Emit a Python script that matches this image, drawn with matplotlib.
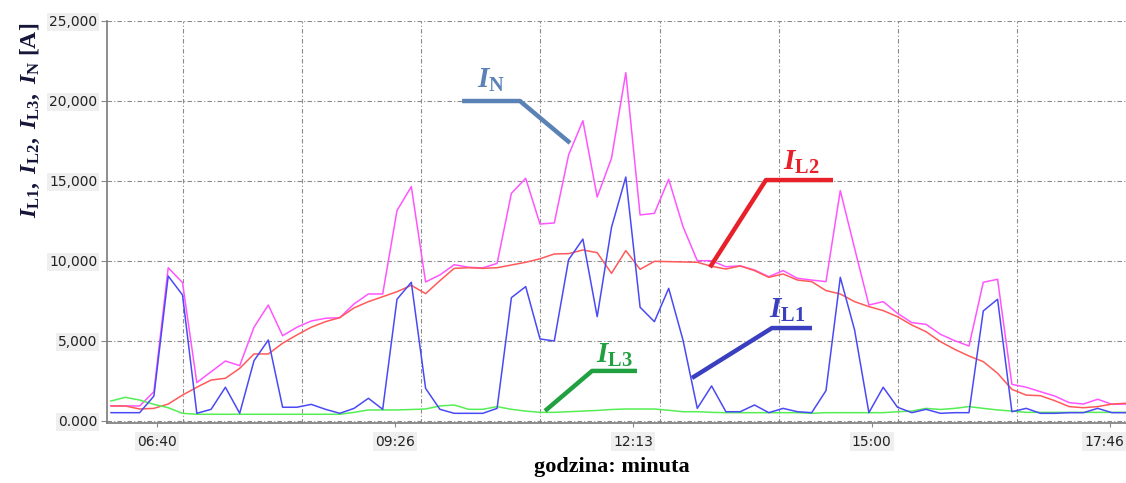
import numpy as np
import matplotlib

matplotlib.use('Agg')
import matplotlib.pyplot as plt
from matplotlib.transforms import ScaledTranslation

plt.rcParams['mathtext.fontset'] = 'custom'
plt.rcParams['mathtext.it'] = 'Liberation Serif:italic:bold'
plt.rcParams['mathtext.rm'] = 'Liberation Serif:bold'
plt.rcParams['mathtext.bf'] = 'Liberation Serif:bold'

# 10-minute samples starting at 06:08 (minutes after midnight)
t_start = 6 * 60 + 8
t_step = 10

i_l1 = [500, 500, 500, 1540, 9040, 7860, 460, 710, 2090, 460,
        3750, 5040, 840, 840, 1020, 710, 460, 770, 1400, 710,
        7590, 8650, 2020, 710, 460, 460, 460, 770, 7690, 8380,
        5110, 4980, 10060, 11350, 6500, 12080, 15230, 7090, 6190, 8270,
        5040, 770, 2170, 560, 560, 980, 500, 770, 560, 500,
        1880, 8960, 5670, 500, 2090, 840, 500, 710, 460, 500,
        500, 6860, 7590, 560, 770, 460, 460, 500, 500, 770,
        500, 500]

i_l2 = [920, 920, 730, 770, 1040, 1600, 2090, 2540, 2650, 3270,
        4170, 4170, 4840, 5360, 5840, 6190, 6440, 7050, 7440, 7750,
        8060, 8460, 7940, 8750, 9520, 9560, 9520, 9560, 9730, 9900,
        10120, 10420, 10440, 10670, 10500, 9210, 10630, 9460, 9960, 9940,
        9920, 9900, 9650, 9480, 9670, 9380, 8960, 9170, 8790, 8690,
        8130, 7920, 7440, 7130, 6880, 6500, 5980, 5560, 4940, 4460,
        4040, 3690, 2960, 1960, 1600, 1560, 1250, 880, 810, 880,
        1040, 1090]

i_l3 = [1230, 1460, 1290, 1020, 810, 460, 400, 400, 400, 400,
        400, 400, 400, 400, 400, 400, 400, 520, 670, 670,
        670, 700, 730, 920, 980, 710, 710, 880, 710, 600,
        520, 520, 560, 600, 640, 700, 730, 730, 730, 650,
        560, 560, 520, 500, 500, 500, 500, 500, 500, 460,
        500, 500, 500, 500, 500, 560, 600, 770, 700, 770,
        880, 770, 670, 600, 520, 520, 520, 520, 520, 520,
        520, 520]

i_n = [920, 920, 920, 1810, 9560, 8630, 2380, 3060, 3730, 3440,
       5840, 7230, 5310, 5840, 6230, 6400, 6440, 7300, 7920, 7920,
       13130, 14630, 8670, 9110, 9750, 9590, 9550, 9830, 14210, 15150,
       12290, 12360, 16610, 18750, 13980, 16400, 21750, 12860, 12960, 15090,
       12130, 10000, 10000, 9620, 9680, 9420, 9000, 9380, 8900, 8790,
       8690, 14380, 10770, 7230, 7440, 6710, 6130, 6020, 5400, 5000,
       4670, 8650, 8840, 2270, 2090, 1810, 1540, 1130, 1040, 1340,
       1020, 1040]

t = t_start + t_step * np.arange(len(i_n))

tick_minutes = [400, 566.67, 733.33, 900, 1066.67]
tick_labels = ['06:40', '09:26', '12:13', '15:00', '17:46']

fig = plt.figure(figsize=(11.26, 4.83), dpi=100)
ax = fig.add_axes([107 / 1126, 1 - 423.4 / 483, 1019 / 1126, 402.7 / 483])

ax.plot(t, i_n, color='#ff55ff', lw=1.1)
ax.plot(t, i_l2, color='#ff5a5a', lw=1.1)
ax.plot(t, i_l3, color='#55ee55', lw=1.1)
ax.plot(t, i_l1, color='#4a4af5', lw=1.1)

ax.set_xlim(365.2, 1077.8)
ax.set_ylim(-170, 25000)

# grid: dash-dot horizontals, vertical lines between the time labels
grid_style = dict(color='#8a8a8a', lw=0.8, ls=(0, (4, 2, 1, 2)), zorder=0)
for y in [0, 5000, 10000, 15000, 20000, 25000]:
    ax.axhline(y, **grid_style)
for x in 418.3 + 83.33 * np.arange(8):
    ax.axvline(x, **grid_style)

ax.set_yticks([0, 5000, 10000, 15000, 20000, 25000])
ax.set_yticklabels(['0.000', '5,000', '10,000', '15,000', '20,000', '25,000'])
ax.set_xticks(tick_minutes)
ax.set_xticklabels(tick_labels)
ax.tick_params(axis='both', labelsize=10, labelcolor='#222222', colors='#888888',
               length=4, width=0.8, pad=3)
ax.tick_params(axis='x', pad=5, length=3)
for lab in ax.get_yticklabels() + ax.get_xticklabels():
    lab.set_color('#222222')
    lab.set_bbox(dict(facecolor='#efefef', edgecolor='none', pad=1.5))

# last time label sits flush with the right edge
last = ax.get_xticklabels()[-1]
last.set_horizontalalignment('right')
last.set_transform(last.get_transform() + ScaledTranslation(14 / 100, 0, fig.dpi_scale_trans))

for side in ['top', 'right']:
    ax.spines[side].set_visible(False)
ax.spines['left'].set_color('#7a7a7a')
ax.spines['bottom'].set_color('#7a7a7a')
ax.spines['left'].set_linewidth(1.2)
ax.spines['bottom'].set_linewidth(1.2)

# callouts for each current
callouts = [
    (r'$I_{\mathrm{N}}$', '#5b82b4', [613.5, 654, 689], [19980, 19980, 17360], (634, 21290)),
    (r'$I_{\mathrm{L2}}$', '#e8202a', [786.9, 826, 872.9], [9590, 15040, 15040], (851, 16170)),
    (r'$I_{\mathrm{L1}}$', '#3a3fc0', [774.3, 830.2, 858.2], [2670, 5790, 5790], (841, 6920)),
    (r'$I_{\mathrm{L3}}$', '#20a040', [671.5, 704.4, 735.8], [610, 3110, 3110], (720, 4110)),
]
for label, col, xs, ys, pos in callouts:
    ax.plot(xs, ys, color=col, lw=3.2, solid_capstyle='butt', zorder=5)
    ax.text(pos[0], pos[1], label, color=col, fontsize=21, ha='center', va='center', zorder=6)

fig.text(30 / 1126, 1 - 120 / 483,
         r'$I_{\mathrm{L1}},\ I_{\mathrm{L2}},\ I_{\mathrm{L3}},\ I_{\mathrm{N}}$ [A]',
         rotation=90, ha='center', va='center', fontsize=17, color='#15153a',
         family='Liberation Serif', weight='bold')
fig.text(612 / 1126, 1 - 467 / 483, 'godzina: minuta', ha='center', va='center',
         fontsize=16, family='Liberation Serif', weight='bold', color='black')

fig.savefig('out.png', dpi=100)
